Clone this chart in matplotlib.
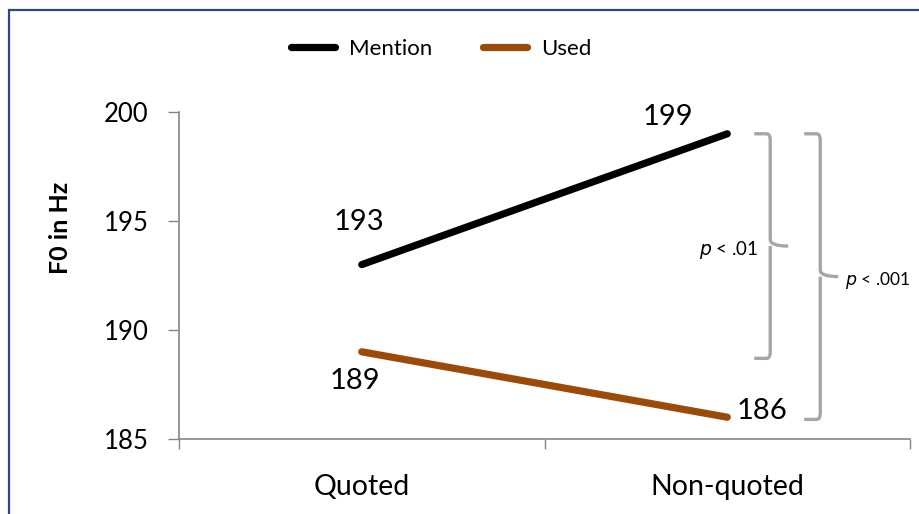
import matplotlib
matplotlib.use("Agg")
import matplotlib.pyplot as plt
from matplotlib.path import Path
from matplotlib.patches import PathPatch, Rectangle

plt.rcParams['font.family'] = ['Lato', 'DejaVu Sans']

categories = ["Quoted", "Non-quoted"]
mention = [193, 199]
used = [189, 186]
series_names = ["Mention", "Used"]
y_ticks = [185, 190, 195, 200]
ylabel = "F0 in Hz"

# significance brackets: (top value, bottom value, label)
brackets = [(199.0, 188.7, ".01"), (199.0, 185.9, ".001")]

fig = plt.figure(figsize=(9.19, 5.14), dpi=100)
ax = fig.add_axes([0.1948, 0.1459, 0.7954, 0.6362])

# outer chart frame (dark navy, top and left edges visible)
fig.patches.append(Rectangle((9 / 919, -0.1), 1.2, 1.1 - 10 / 514,
                             transform=fig.transFigure, fill=False,
                             edgecolor="#2E4A7A", linewidth=1.6, zorder=0))

x = range(len(categories))
ax.plot(x, mention, color="black", lw=5.2, solid_capstyle="round",
        label=series_names[0])
ax.plot(x, used, color="#9C4A08", lw=5.2, solid_capstyle="round",
        label=series_names[1])

ax.set_xlim(-0.5, 1.5)
ax.set_ylim(185, 200)
ax.set_yticks(y_ticks)
ax.set_yticklabels([str(t) for t in y_ticks], fontsize=18.5)
ax.set_xticks([-0.5, 0.5, 1.5], minor=False)
ax.set_xticklabels([])
ax.set_xticks(list(x), minor=True)
ax.set_xticklabels(categories, minor=True, fontsize=20.5)
ax.tick_params(axis="x", which="minor", length=0, pad=25)
ax.tick_params(axis="x", which="major", length=7, color="#868686", width=1)
ax.tick_params(axis="y", length=8, color="#868686", width=1, pad=14)
for s in ("top", "right"):
    ax.spines[s].set_visible(False)
for s in ("left", "bottom"):
    ax.spines[s].set_color("#868686")
    ax.spines[s].set_linewidth(1.2)

ax.set_ylabel(ylabel, fontsize=18, fontweight="bold")
ax.yaxis.set_label_coords(-0.1464, 0.647)

# value labels
pt = 72 / 100
label_offsets = {
    (0, mention[0]): (-3, 43, "center"),
    (1, mention[1]): (-59, 17, "center"),
    (0, used[0]): (-7, -29, "center"),
    (1, used[1]): (9, 6, "left"),
}
for xi, yi in [(0, mention[0]), (1, mention[1]), (0, used[0]), (1, used[1])]:
    dx, dy, ha = label_offsets[(xi, yi)]
    ax.annotate(str(yi), (xi, yi), xytext=(dx * pt, dy * pt),
                textcoords="offset points", ha=ha, va="center", fontsize=21)


def bracket(ax, x_arm, x_spine, x_tip, y_top, y_bot, r):
    """Right-facing bracket with a centre point, in data coordinates."""
    y_mid = (y_top + y_bot) / 2
    verts = [
        (x_arm, y_top), (x_spine - r, y_top),
        (x_spine, y_top), (x_spine, y_top - 0.3),
        (x_spine, y_mid + 0.3),
        (x_spine, y_mid), (x_tip, y_mid),
        (x_spine, y_mid), (x_spine, y_mid - 0.3),
        (x_spine, y_bot + 0.3),
        (x_spine, y_bot), (x_spine - r, y_bot),
        (x_arm, y_bot),
    ]
    codes = [Path.MOVETO, Path.LINETO,
             Path.CURVE3, Path.CURVE3,
             Path.LINETO,
             Path.CURVE3, Path.CURVE3,
             Path.MOVETO, Path.CURVE3,
             Path.LINETO,
             Path.CURVE3, Path.CURVE3,
             Path.LINETO]
    ax.add_patch(PathPatch(Path(verts, codes), fill=False, edgecolor="#A6A6A6",
                           lw=2.4, clip_on=False, capstyle="butt"))


px = 1 / 365.5  # data units per pixel along x
bracket(ax, 1 + (754 - 727) * px, 1 + (770 - 727) * px, 1 + (788 - 727) * px,
        brackets[0][0], brackets[0][1], 0.01)
bracket(ax, 1 + (804 - 727) * px, 1 + (820 - 727) * px, 1 + (838 - 727) * px,
        brackets[1][0], brackets[1][1], 0.01)

ax.text(1 + (758 - 727) * px, (brackets[0][0] + brackets[0][1]) / 2 - 0.2,
        r"$\it{p}$" + " < " + brackets[0][2], ha="right", va="center",
        fontsize=13.5, clip_on=False)
ax.text(1 + (845 - 727) * px, (brackets[1][0] + brackets[1][1]) / 2 - 0.2,
        r"$\it{p}$" + " < " + brackets[1][2], ha="left", va="center",
        fontsize=12.5, clip_on=False)

fig.legend(loc="center", bbox_to_anchor=(441 / 919, 1 - 49 / 514), ncol=2,
           frameon=False, fontsize=16, handlelength=2.0, columnspacing=2.3,
           handletextpad=0.6)

fig.savefig("out.png", dpi=100)
